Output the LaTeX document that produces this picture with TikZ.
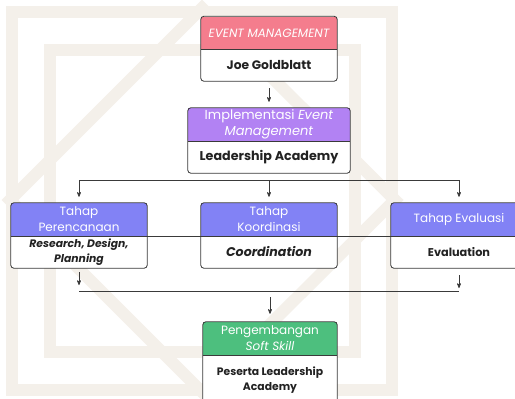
\documentclass[tikz,border=0pt]{standalone}
\usepackage{fontspec}
\setmainfont{Poppins}
\usetikzlibrary{arrows,%
                positioning}
\definecolor{eventpink}{HTML}{F47D8D}
\definecolor{implpurple}{HTML}{B282F3}
\definecolor{phaseblue}{HTML}{8282F5}
\definecolor{softgreen}{HTML}{4DBF7E}
\definecolor{linegray}{HTML}{3A3A3A}
\definecolor{textdark}{HTML}{222222}
\definecolor{wmbeige}{HTML}{F4F0EA}

\begin{document}
\begin{tikzpicture}[x=1pt,y=-1pt,font=\fontsize{12}{16}\selectfont]
\tikzstyle{head}=[text=white,inner sep=0pt,minimum height=33pt,align=center]
\tikzstyle{body}=[fill=white,text=textdark,inner sep=0pt,minimum height=32pt,align=center,font=\fontsize{11.5}{15}\selectfont\bfseries]
\tikzstyle{frame}=[draw=linegray,line width=0.8pt,rounded corners=3pt]
\tikzstyle{link}=[draw=linegray,line width=0.7pt]
\tikzstyle{pointer}=[link,->,>=stealth']
\tikzstyle{wm}=[draw=wmbeige,line width=12pt]

\useasboundingbox (0,0) rectangle (515,399);
\fill[white] (0,0) rectangle (515,399);

% watermark
\draw[wm] (12,12) rectangle (392,390);
\draw[wm] (50,50) rectangle (355,352);
\draw[wm] (202,8) -- (395,200) -- (202,392) -- (10,200) -- cycle;

% event management
\draw (269,33) node[head,fill=eventpink,minimum width=136pt] (emhead) {\itshape EVENT MANAGEMENT};
\draw (269,65) node[body,minimum width=136pt,font=\fontsize{12.3}{15}\selectfont\bfseries] (embody) {Joe Goldblatt};
\draw[frame] (emhead.north west) rectangle (embody.south east);
\draw[link] (emhead.south west) -- (emhead.south east);

% implementation
\draw (269,124.5) node[head,fill=implpurple,minimum width=162pt,font=\fontsize{13}{16.5}\selectfont] (imhead) {Implementasi \textit{Event}\\\textit{Management}};
\draw (269,157) node[body,minimum width=162pt,font=\fontsize{12.7}{15}\selectfont\bfseries] (imbody) {Leadership Academy};
\draw[frame] (imhead.north west) rectangle (imbody.south east);
\draw[link] (imhead.south west) -- (imhead.south east);

% phases
\draw (79,219.5) node[head,fill=phaseblue,minimum width=136pt] (plhead) {Tahap\\Perencanaan};
\draw (79,252) node[body,minimum width=136pt,font=\fontsize{10.8}{15}\selectfont\bfseries] (plbody) {\itshape Research, Design,\\\itshape Planning};
\draw[frame] (plhead.north west) rectangle (plbody.south east);

\draw (269,219.5) node[head,fill=phaseblue,minimum width=136pt] (kohead) {Tahap\\Koordinasi};
\draw (269,252) node[body,minimum width=136pt,font=\fontsize{12.6}{15}\selectfont\bfseries] (kobody) {\itshape Coordination};
\draw[frame] (kohead.north west) rectangle (kobody.south east);

\draw (459,219.5) node[head,fill=phaseblue,minimum width=136pt] (evhead) {Tahap Evaluasi};
\draw (459,252) node[body,minimum width=136pt,font=\fontsize{11.3}{15}\selectfont\bfseries] (evbody) {Evaluation};
\draw[frame] (evhead.north west) rectangle (evbody.south east);

\draw[link] (plhead.south west) -- (evhead.south east);

% soft skill
\draw (270,338.5) node[head,fill=softgreen,minimum width=134pt] (pshead) {Pengembangan\\\textit{Soft Skill}};
\draw (270,380) node[body,minimum width=134pt,minimum height=50pt,font=\fontsize{10.8}{15}\selectfont\bfseries] (psbody) {Peserta Leadership\\Academy};
\draw[frame] (pshead.north west) rectangle (psbody.south east);
\draw[link] (pshead.south west) -- (pshead.south east);

% connectors
\coordinate (forkleft) at (79,180);
\coordinate (forkmid) at (269,180);
\coordinate (forkright) at (459,180);
\coordinate (joinleft) at (79,291);
\coordinate (joinmid) at (270,291);
\coordinate (joinright) at (459,291);

\draw[pointer,shorten <=7pt,shorten >=6pt] (embody) -- (imhead);
\draw[link] (forkleft) -- (forkright);
\draw[pointer,shorten >=6pt] (forkleft) -- (plhead);
\draw[pointer,shorten >=6pt] (forkmid) -- (kohead);
\draw[pointer,shorten >=6pt] (forkright) -- (evhead);
\draw[pointer,shorten <=4pt,shorten >=6pt] (plbody) -- (joinleft);
\draw[pointer,shorten <=7pt,shorten >=3pt] (evbody) -- (joinright);
\draw[link] (joinleft) -- (joinright);
\draw[pointer,shorten <=6pt,shorten >=8pt] (joinmid) -- (pshead);
\end{tikzpicture}
\end{document}
